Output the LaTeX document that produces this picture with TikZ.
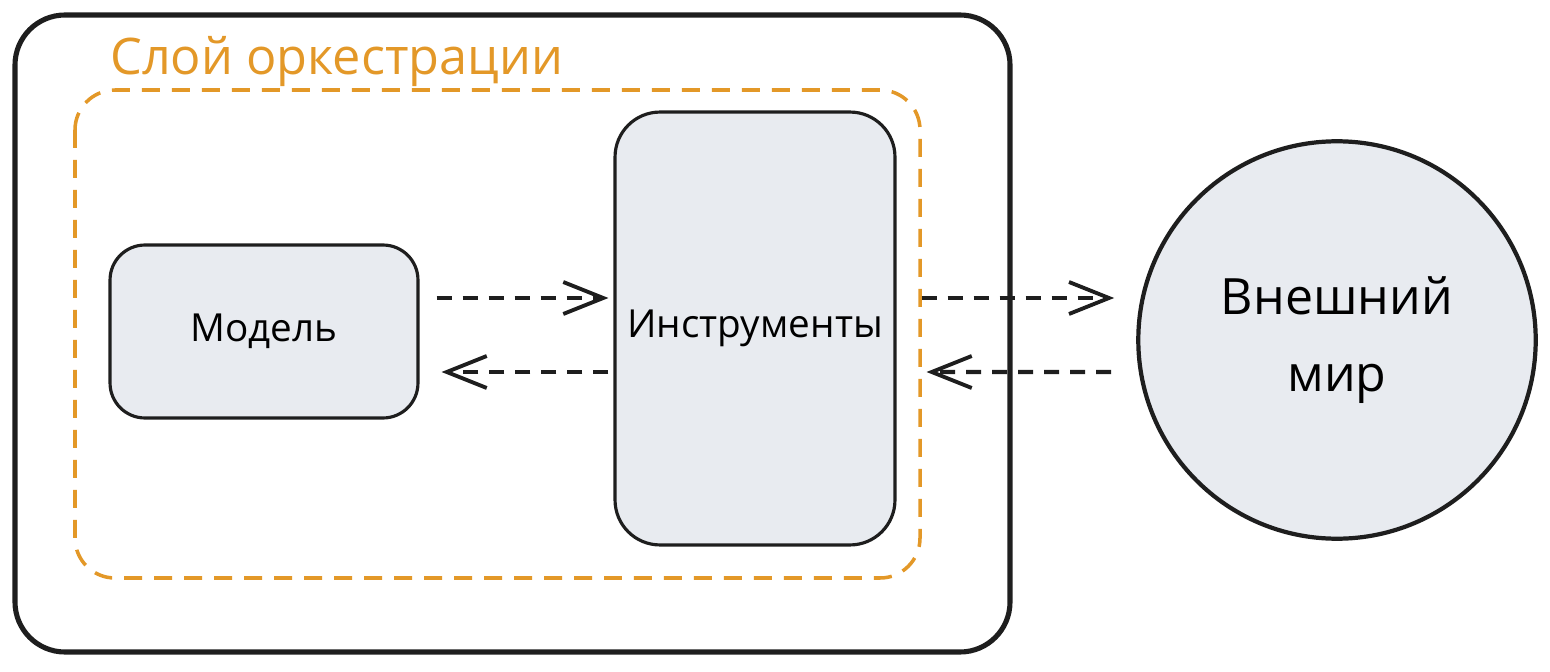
\documentclass[tikz,border=0pt]{standalone}
\usepackage{fontspec}
\setmainfont{Open Sans}
\usetikzlibrary{arrows.meta}

\definecolor{orchcolor}{RGB}{227,152,40}
\definecolor{boxfill}{RGB}{232,235,240}
\definecolor{inkcolor}{RGB}{30,30,30}

\tikzset{
  layerbox/.style={draw=inkcolor, line width=2.9pt, rounded corners=1cm},
  orchbox/.style={draw=orchcolor, line width=2pt, dash pattern=on 0.36cm off 0.24cm, rounded corners=0.8cm},
  partbox/.style={draw=inkcolor, fill=boxfill, line width=1.8pt, inner sep=0pt},
  worldnode/.style={circle, draw=inkcolor, fill=boxfill, line width=2.4pt, minimum size=7.95cm, inner sep=0pt},
  flow/.style={draw=inkcolor, line width=2.4pt, dash pattern=on 0.3cm off 0.22cm,
    -{Straight Barb[length=0.8cm, width=0.64cm, line width=2.2pt]}},
}

\begin{document}
\begin{tikzpicture}[x=0.02cm, y=-0.02cm]
\useasboundingbox (0,0) rectangle (1550,672);

% outer frame and orchestration layer
\draw[layerbox] (15,15) rectangle (1010,652);
\draw[orchbox] (75,90) rectangle (920,578);
\node[anchor=base west, text=orchcolor, font=\fontsize{28.7}{34}\selectfont] (layertitle) at (104,75) {Слой оркестрации};

% parts
\node[partbox, rounded corners=0.7cm, minimum width=6.16cm, minimum height=3.46cm,
  font=\fontsize{22}{26}\selectfont] (model) at (264,331.5) {Модель};
\node[partbox, rounded corners=0.9cm, minimum width=5.6cm, minimum height=8.66cm,
  font=\fontsize{22}{26}\selectfont] (tools) at (755,328.5) {Инструменты};
\node[worldnode, align=center, font=\fontsize{28.5}{44}\selectfont] (world) at (1337,340) {Внешний\\мир};

% connectors
\draw[flow] ([shift={(17,-33.5)}]model.east) -- ([shift={(-5,-30.5)}]tools.west);
\draw[flow] ([shift={(-5,43.5)}]tools.west) -- ([shift={(22,40.5)}]model.east);
\draw[flow] ([shift={(25,-30.5)}]tools.east) -- ([shift={(-22,-42)}]world.west);
\draw[flow] ([shift={(-25,32)}]world.west) -- ([shift={(30,43.5)}]tools.east);
\end{tikzpicture}
\end{document}
